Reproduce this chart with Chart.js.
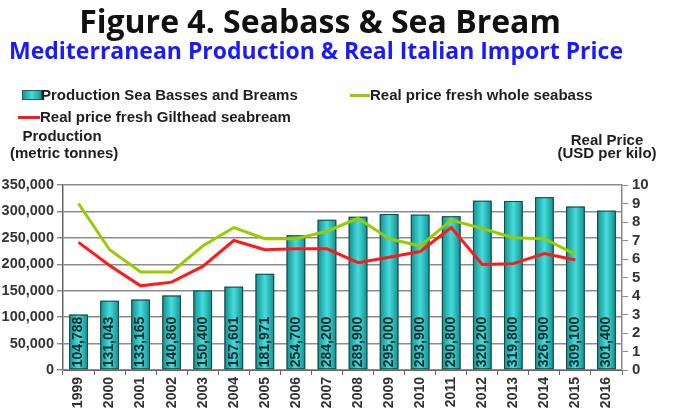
<!DOCTYPE html>
<html>
<head>
<meta charset="utf-8">
<script src="https://cdn.jsdelivr.net/npm/chart.js@4/dist/chart.umd.min.js"></script>
<style>
  body { margin: 0; background: #fff; }
  #wrap { position: relative; width: 673px; height: 417px; overflow: hidden; }
  #chart { position: absolute; left: 0; top: 0; }
  .t { position: absolute; white-space: nowrap; font-family: "Liberation Sans", Arial, sans-serif; font-weight: bold; color: #1e1e1e; }
  #title { left: 0; width: 640px; top: -1px; text-align: center; font-family: "Open Sans", sans-serif; font-size: 32px; color: #111; }
  #sub { left: 0; width: 632px; top: 34px; text-align: center; font-family: "Open Sans", sans-serif; font-size: 23px; color: #1a1aff; }
  .sw { position: absolute; }
</style>
</head>
<body>
<div id="wrap">
  <canvas id="chart" width="673" height="417"></canvas>
  <div class="t" id="title">Figure 4. Seabass &amp; Sea Bream</div>
  <div class="t" id="sub">Mediterranean Production &amp; Real Italian Import Price</div>
  <div class="sw" style="left:22px;top:90px;width:18px;height:8px;background:linear-gradient(90deg,#139a9a,#45dada,#139a9a);border:1px solid #2a5a5a"></div>
  <div class="t" style="left:41px;top:86px;font-size:15px">Production Sea Basses and Breams</div>
  <div class="sw" style="left:350px;top:94px;width:20px;height:3px;background:#99cc00"></div>
  <div class="t" style="left:370px;top:86px;font-size:15px">Real price fresh whole seabass</div>
  <div class="sw" style="left:18px;top:116px;width:22px;height:3px;background:#ff1a1a"></div>
  <div class="t" style="left:40px;top:108px;font-size:15px">Real price fresh Gilthead seabream</div>
  <div class="t" style="left:10px;width:104px;top:127px;font-size:15px;text-align:center">Production</div>
  <div class="t" style="left:10px;width:104px;top:144px;font-size:15px;text-align:center">(metric tonnes)</div>
  <div class="t" style="left:555px;width:104px;top:131px;font-size:15px;text-align:center">Real Price</div>
  <div class="t" style="left:555px;width:104px;top:144px;font-size:15px;text-align:center">(USD per kilo)</div>
</div>
<script>
// values
const years = ['1999', '2000', '2001', '2002', '2003', '2004', '2005', '2006', '2007',
  '2008', '2009', '2010', '2011', '2012', '2013', '2014', '2015', '2016'];
const production = [104788, 131043, 133165, 140860, 150400, 157601, 181971, 254700, 284200,
  289900, 295000, 293900, 290800, 320200, 319800, 326900, 309100, 301400];
const seabassPrice = [9.0, 6.5, 5.3, 5.3, 6.7, 7.7, 7.1, 7.1, 7.5,
  8.2, 7.1, 6.7, 8.1, 7.65, 7.15, 7.1, 6.25, null];
const breamPrice = [6.9, 5.65, 4.55, 4.75, 5.6, 7.0, 6.5, 6.55, 6.55,
  5.8, 6.1, 6.4, 7.7, 5.7, 5.75, 6.3, 5.95, null];

const tickFont = {family: "'Liberation Sans', Arial, sans-serif", weight: 'bold', size: 14};

// shaded cylinder look on the bars, then the production numbers written upwards
const barLabels = {
  id: 'barLabels',
  afterDatasetDraw(chart, args) {
    if (args.index !== 0) return;
    const ctx = chart.ctx;
    ctx.save();
    args.meta.data.forEach((bar) => {
      const x0 = bar.x - bar.width / 2;
      const g = ctx.createLinearGradient(x0, 0, x0 + bar.width, 0);
      g.addColorStop(0, '#118f8f');
      g.addColorStop(0.5, '#46dcdc');
      g.addColorStop(1, '#118f8f');
      ctx.fillStyle = g;
      ctx.fillRect(x0, bar.y, bar.width, bar.base - bar.y);
      ctx.strokeStyle = '#1f4545';
      ctx.lineWidth = 1;
      ctx.strokeRect(x0 + 0.5, bar.y + 0.5, bar.width - 1, bar.base - bar.y - 1);
    });
    ctx.font = "bold 14px 'Liberation Sans', Arial, sans-serif";
    ctx.fillStyle = '#1a2a2a';
    ctx.textAlign = 'left';
    ctx.textBaseline = 'middle';
    args.meta.data.forEach((bar, i) => {
      ctx.save();
      ctx.translate(bar.x, bar.base - 2);
      ctx.rotate(-Math.PI / 2);
      ctx.fillText(production[i].toLocaleString('en-US'), 0, 0);
      ctx.restore();
    });
    ctx.restore();
  }
};

new Chart(document.getElementById('chart'), {
  type: 'bar',
  data: {
    labels: years,
    datasets: [
      {
        label: 'Production Sea Basses and Breams',
        data: production,
        yAxisID: 'y',
        backgroundColor: '#1fb5b5',
        borderColor: '#22504f',
        borderWidth: 1,
        barPercentage: 0.6,
        categoryPercentage: 1,
        order: 3
      },
      {
        type: 'line',
        label: 'Real price fresh whole seabass',
        data: seabassPrice,
        yAxisID: 'y1',
        borderColor: '#99cc00',
        borderWidth: 3,
        pointRadius: 0,
        tension: 0,
        order: 1
      },
      {
        type: 'line',
        label: 'Real price fresh Gilthead seabream',
        data: breamPrice,
        yAxisID: 'y1',
        borderColor: '#ff1a1a',
        borderWidth: 3,
        pointRadius: 0,
        tension: 0,
        order: 2
      }
    ]
  },
  options: {
    responsive: false,
    animation: false,
    layout: {padding: {top: 185, left: 0, right: 0, bottom: 0}},
    plugins: {legend: {display: false}, tooltip: {enabled: false}},
    scales: {
      x: {
        grid: {drawOnChartArea: false, offset: true, tickLength: 5, color: '#666'},
        border: {color: '#666'},
        ticks: {font: tickFont, color: '#333', maxRotation: 90, minRotation: 90, padding: 2},
        afterFit(axis) { axis.height = 47; }
      },
      y: {
        position: 'left',
        min: 0, max: 350000,
        ticks: {stepSize: 50000, font: {family: tickFont.family, weight: 'bold', size: 14.5}, color: '#333', padding: 3,
          callback: v => v.toLocaleString('en-US')},
        grid: {color: '#8c8c8c', lineWidth: 1.5, tickLength: 6},
        border: {color: '#666', width: 1.5},
        afterFit(axis) { axis.width = 63; }
      },
      y1: {
        position: 'right',
        min: 0, max: 10,
        ticks: {stepSize: 1, autoSkip: false, font: {family: tickFont.family, weight: 'bold', size: 15}, color: '#333', padding: 4},
        grid: {drawOnChartArea: false, tickLength: 6, color: '#888'},
        border: {color: '#888', width: 1.5},
        afterFit(axis) { axis.width = 51; }
      }
    }
  },
  plugins: [barLabels]
});
</script>
</body>
</html>
